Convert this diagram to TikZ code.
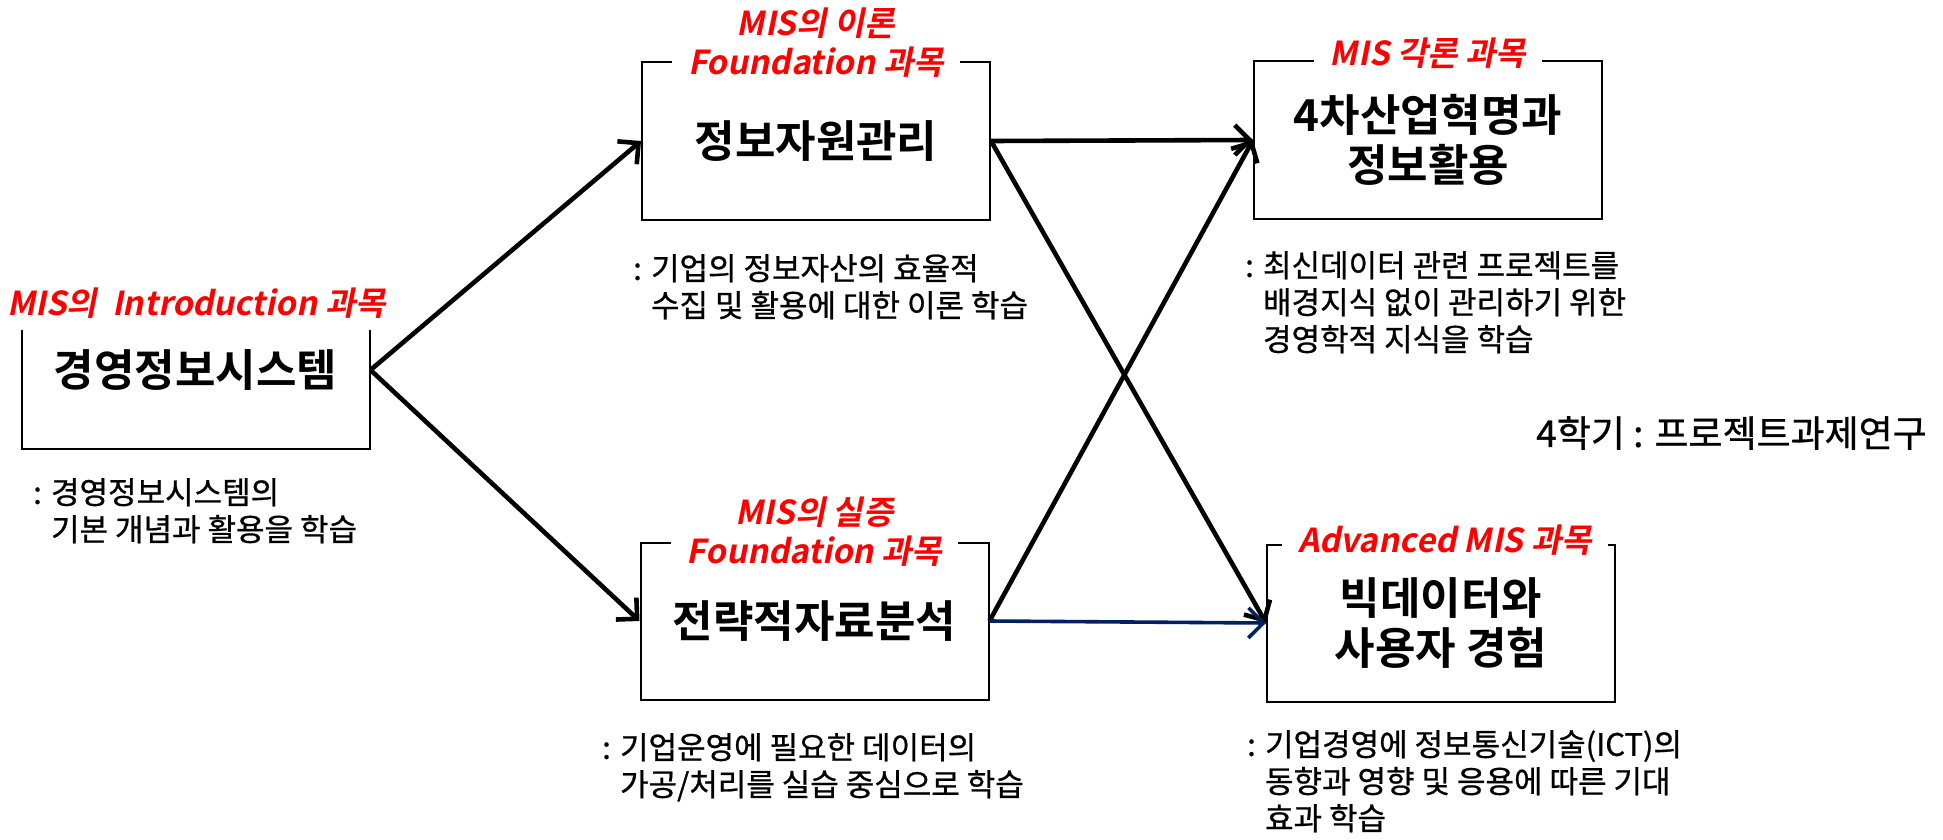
\documentclass[tikz,border=0pt]{standalone}
\usepackage{fontspec}
\setmainfont{Noto Sans CJK KR}[BoldFont={Noto Sans CJK KR Bold}]
\newfontfamily\tagfont{Noto Sans CJK KR Bold}[FakeSlant=0.2]
\newfontfamily\descfont{Noto Sans CJK KR}[FakeBold=0.8]
\usetikzlibrary{arrows.meta}
\definecolor{navy}{RGB}{0,32,96}

\begin{document}
\begin{tikzpicture}[x=1pt, y=-1pt,
    course/.style={draw, line width=2pt, minimum width=348pt, minimum height=157pt,
      align=center, font=\bfseries\fontsize{44}{50}\selectfont},
    tag/.style={fill=white, text=red, inner xsep=16pt, inner ysep=12pt, align=center,
      font=\tagfont\fontsize{33}{39}\selectfont},
    desc/.style={anchor=north west, inner sep=0pt, align=left,
      font=\descfont\fontsize{31}{37}\selectfont},
    flow/.style={->, line width=4.6pt},
    >={Straight Barb[length=15pt, width=30pt]}]
  \useasboundingbox (0, 0) rectangle (1943, 840);
  \node[course] (mis) at (195.5, 370) {경영정보시스템};
  \node[course] (resource) at (816, 141) {정보자원관리};
  \node[course] (industry) at (1428, 140) {4차산업혁명과\\정보활용};
  \node[course] (analysis) at (814.5, 621) {전략적자료분석};
  \node[course] (bigdata) at (1441, 623) {빅데이터와\\사용자 경험};
  \node[tag] (mistag) at (196.5, 303) {MIS의\ \ Introduction 과목};
  \node[tag] (resourcetag) at (816, 43) {MIS의 이론\\Foundation 과목};
  \node[tag] (industrytag) at (1428, 53) {MIS 각론 과목};
  \node[tag] (analysistag) at (814.5, 532) {MIS의 실증\\Foundation 과목};
  \node[tag] (bigdatatag) at (1445, 540) {Advanced MIS 과목};
  \node[desc] (misdesc) at (33, 478) {: 경영정보시스템의\\\hphantom{: }기본 개념과 활용을 학습};
  \node[desc] (resourcedesc) at (633, 254) {: 기업의 정보자산의 효율적\\\hphantom{: }수집 및 활용에 대한 이론 학습};
  \node[desc] (industrydesc) at (1245, 251) {: 최신데이터 관련 프로젝트를\\\hphantom{: }배경지식 없이 관리하기 위한\\\hphantom{: }경영학적 지식을 학습};
  \node[desc] (analysisdesc) at (602, 733) {: 기업운영에 필요한 데이터의\\\hphantom{: }가공/처리를 실습 중심으로 학습};
  \node[desc] (bigdatadesc) at (1247, 730) {: 기업경영에 정보통신기술(ICT)의\\\hphantom{: }동향과 영향 및 응용에 따른 기대\\\hphantom{: }효과 학습};
  \node[anchor=east, inner sep=0pt, font=\descfont\fontsize{37}{40}\selectfont] (term) at (1927, 433) {4학기 : 프로젝트과제연구};
  \draw[flow] (mis.east) -- (resource.west);
  \draw[flow] (mis.east) -- (analysis.west);
  \draw[flow] (resource.east) -- (industry.west);
  \draw[flow] (resource.east) -- (bigdata.west);
  \draw[flow] (analysis.east) -- (industry.west);
  \draw[flow, navy, line width=3.6pt] (analysis.east) -- (bigdata.west);
\end{tikzpicture}
\end{document}
